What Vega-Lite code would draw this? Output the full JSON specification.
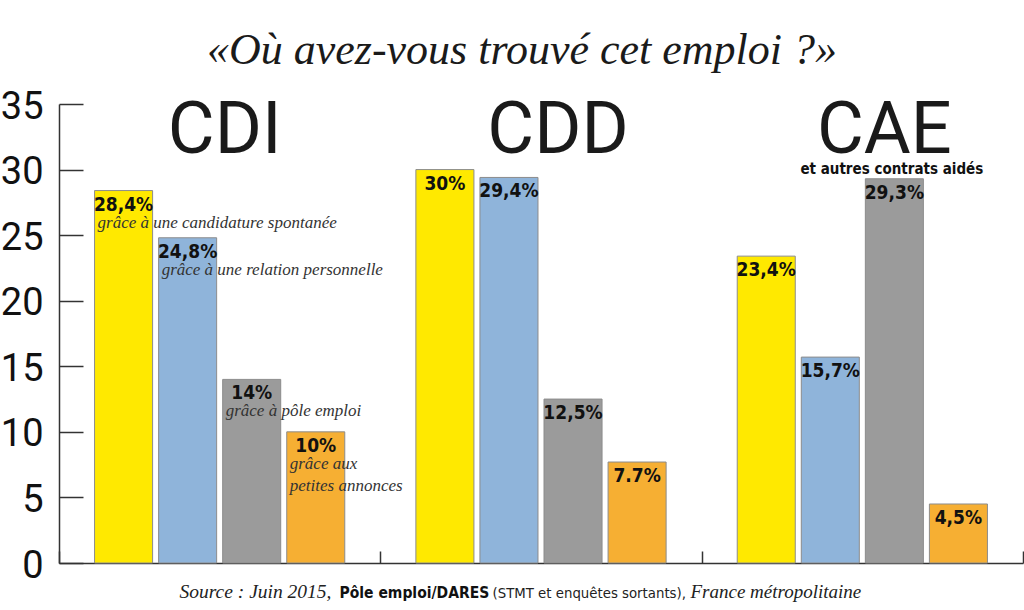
{
  "$schema": "https://vega.github.io/schema/vega-lite/v6.json",
  "width": 964,
  "height": 459,
  "autosize": {"type": "none"},
  "padding": {"left": 59, "top": 104, "right": 1, "bottom": 47},
  "background": "white",
  "title": {
    "text": "«Où avez-vous trouvé cet emploi ?»",
    "font": "Liberation Serif",
    "fontStyle": "italic",
    "fontWeight": "normal",
    "fontSize": 44,
    "color": "#1a1a1a",
    "anchor": "middle",
    "frame": "group",
    "dx": -19,
    "offset": 15
  },
  "config": {
    "view": {"stroke": null},
    "axis": {"grid": false}
  },
  "layer": [
    {
      "data": {
        "values": [
          {"contrat": "CDI", "canal": "candidature spontanée", "valeur": 28.4, "label": "28,4%", "desc": "grâce à une candidature spontanée"},
          {"contrat": "CDI", "canal": "relation personnelle", "valeur": 24.8, "label": "24,8%", "desc": "grâce à une relation personnelle"},
          {"contrat": "CDI", "canal": "Pôle emploi", "valeur": 14, "label": "14%", "desc": "grâce à pôle emploi"},
          {"contrat": "CDI", "canal": "petites annonces", "valeur": 10, "label": "10%", "desc": "grâce aux\npetites annonces"},
          {"contrat": "CDD", "canal": "candidature spontanée", "valeur": 30, "label": "30%", "desc": ""},
          {"contrat": "CDD", "canal": "relation personnelle", "valeur": 29.4, "label": "29,4%", "desc": ""},
          {"contrat": "CDD", "canal": "Pôle emploi", "valeur": 12.5, "label": "12,5%", "desc": ""},
          {"contrat": "CDD", "canal": "petites annonces", "valeur": 7.7, "label": "7.7%", "desc": ""},
          {"contrat": "CAE", "canal": "candidature spontanée", "valeur": 23.4, "label": "23,4%", "desc": ""},
          {"contrat": "CAE", "canal": "relation personnelle", "valeur": 15.7, "label": "15,7%", "desc": ""},
          {"contrat": "CAE", "canal": "Pôle emploi", "valeur": 29.3, "label": "29,3%", "desc": ""},
          {"contrat": "CAE", "canal": "petites annonces", "valeur": 4.5, "label": "4,5%", "desc": ""}
        ]
      },
      "encoding": {
        "x": {
          "field": "contrat",
          "type": "nominal",
          "scale": {"domain": ["CDI", "CDD", "CAE"], "paddingInner": 0, "paddingOuter": 0},
          "axis": {
            "title": null,
            "labels": false,
            "domain": true,
            "domainColor": "#333333",
            "domainWidth": 1.5,
            "ticks": true,
            "tickBand": "extent",
            "tickSize": -12,
            "tickColor": "#333333",
            "tickWidth": 1.5
          }
        },
        "xOffset": {
          "field": "canal",
          "type": "nominal",
          "scale": {"domain": ["candidature spontanée", "relation personnelle", "Pôle emploi", "petites annonces"], "paddingInner": 0.094, "paddingOuter": 0.555}
        },
        "y": {
          "field": "valeur",
          "type": "quantitative",
          "scale": {"domain": [0, 35], "nice": false},
          "axis": {
            "title": null,
            "values": [0, 5, 10, 15, 20, 25, 30, 35],
            "domainColor": "#333333",
            "domainWidth": 1.5,
            "tickColor": "#333333",
            "tickWidth": 1.5,
            "tickSize": -24,
            "labelPadding": 40,
            "labelFont": "Roboto",
            "labelFontSize": 38,
            "labelColor": "#111111",
            "labelOffset": 3
          }
        }
      },
      "layer": [
        {
          "mark": {"type": "bar", "stroke": "#8c8c8c", "strokeWidth": 1},
          "encoding": {
            "color": {
              "field": "canal",
              "type": "nominal",
              "scale": {
                "domain": ["candidature spontanée", "relation personnelle", "Pôle emploi", "petites annonces"],
                "range": ["#FFE900", "#8FB4DA", "#9B9B9B", "#F6AF33"]
              },
              "legend": null
            }
          }
        },
        {
          "mark": {"type": "text", "baseline": "top", "dy": 5, "align": "center", "font": "DejaVu Sans Condensed", "fontWeight": "bold", "fontSize": 19, "color": "#111111"},
          "encoding": {"text": {"field": "label"}}
        },
        {
          "transform": [{"filter": "datum.desc != ''"}],
          "mark": {"type": "text", "baseline": "alphabetic", "align": "left", "dx": -26, "dy": 37, "lineBreak": "\n", "lineHeight": 22, "font": "Liberation Serif", "fontStyle": "italic", "fontSize": 17, "color": "#333333"},
          "encoding": {"text": {"field": "desc"}}
        }
      ]
    },
    {
      "data": {"values": [{"groupe": "CDI"}]},
      "mark": {"type": "text", "baseline": "alphabetic", "align": "center", "dx": 5, "font": "Roboto", "fontSize": 72, "color": "#1a1a1a"},
      "encoding": {"x": {"datum": "CDI"}, "y": {"datum": 31.3}, "text": {"field": "groupe"}}
    },
    {
      "data": {"values": [{"groupe": "CDD"}]},
      "mark": {"type": "text", "baseline": "alphabetic", "align": "center", "dx": 17, "font": "Roboto", "fontSize": 72, "color": "#1a1a1a"},
      "encoding": {"x": {"datum": "CDD"}, "y": {"datum": 31.3}, "text": {"field": "groupe"}}
    },
    {
      "data": {"values": [{"groupe": "CAE"}]},
      "mark": {"type": "text", "baseline": "alphabetic", "align": "center", "dx": 22, "font": "Roboto", "fontSize": 72, "color": "#1a1a1a"},
      "encoding": {"x": {"datum": "CAE"}, "y": {"datum": 31.3}, "text": {"field": "groupe"}}
    },
    {
      "data": {"values": [{"texte": "et autres contrats aidés"}]},
      "mark": {"type": "text", "baseline": "alphabetic", "align": "center", "dx": 29.5, "font": "DejaVu Sans Condensed", "fontWeight": "bold", "fontSize": 15, "color": "#111111"},
      "encoding": {"x": {"datum": "CAE"}, "y": {"datum": 29.7}, "text": {"field": "texte"}}
    },
    {
      "data": {"values": [{"texte": "Source : Juin 2015,"}]},
      "mark": {"type": "text", "baseline": "alphabetic", "align": "left", "dx": -361.5, "dy": 35, "font": "Liberation Serif", "fontStyle": "italic", "fontSize": 19.5, "color": "#222222"},
      "encoding": {"x": {"datum": "CDD"}, "y": {"datum": 0}, "text": {"field": "texte"}}
    },
    {
      "data": {"values": [{"texte": "Pôle emploi/DARES"}]},
      "mark": {"type": "text", "baseline": "alphabetic", "align": "left", "dx": -201.5, "dy": 35, "font": "DejaVu Sans Condensed", "fontWeight": "bold", "fontSize": 15.5, "color": "#111111"},
      "encoding": {"x": {"datum": "CDD"}, "y": {"datum": 0}, "text": {"field": "texte"}}
    },
    {
      "data": {"values": [{"texte": "(STMT et enquêtes sortants),"}]},
      "mark": {"type": "text", "baseline": "alphabetic", "align": "left", "dx": -48.5, "dy": 35, "font": "DejaVu Sans Condensed", "fontSize": 14.8, "color": "#222222"},
      "encoding": {"x": {"datum": "CDD"}, "y": {"datum": 0}, "text": {"field": "texte"}}
    },
    {
      "data": {"values": [{"texte": "France métropolitaine"}]},
      "mark": {"type": "text", "baseline": "alphabetic", "align": "left", "dx": 149.5, "dy": 35, "font": "Liberation Serif", "fontStyle": "italic", "fontSize": 19, "color": "#222222"},
      "encoding": {"x": {"datum": "CDD"}, "y": {"datum": 0}, "text": {"field": "texte"}}
    }
  ]
}
